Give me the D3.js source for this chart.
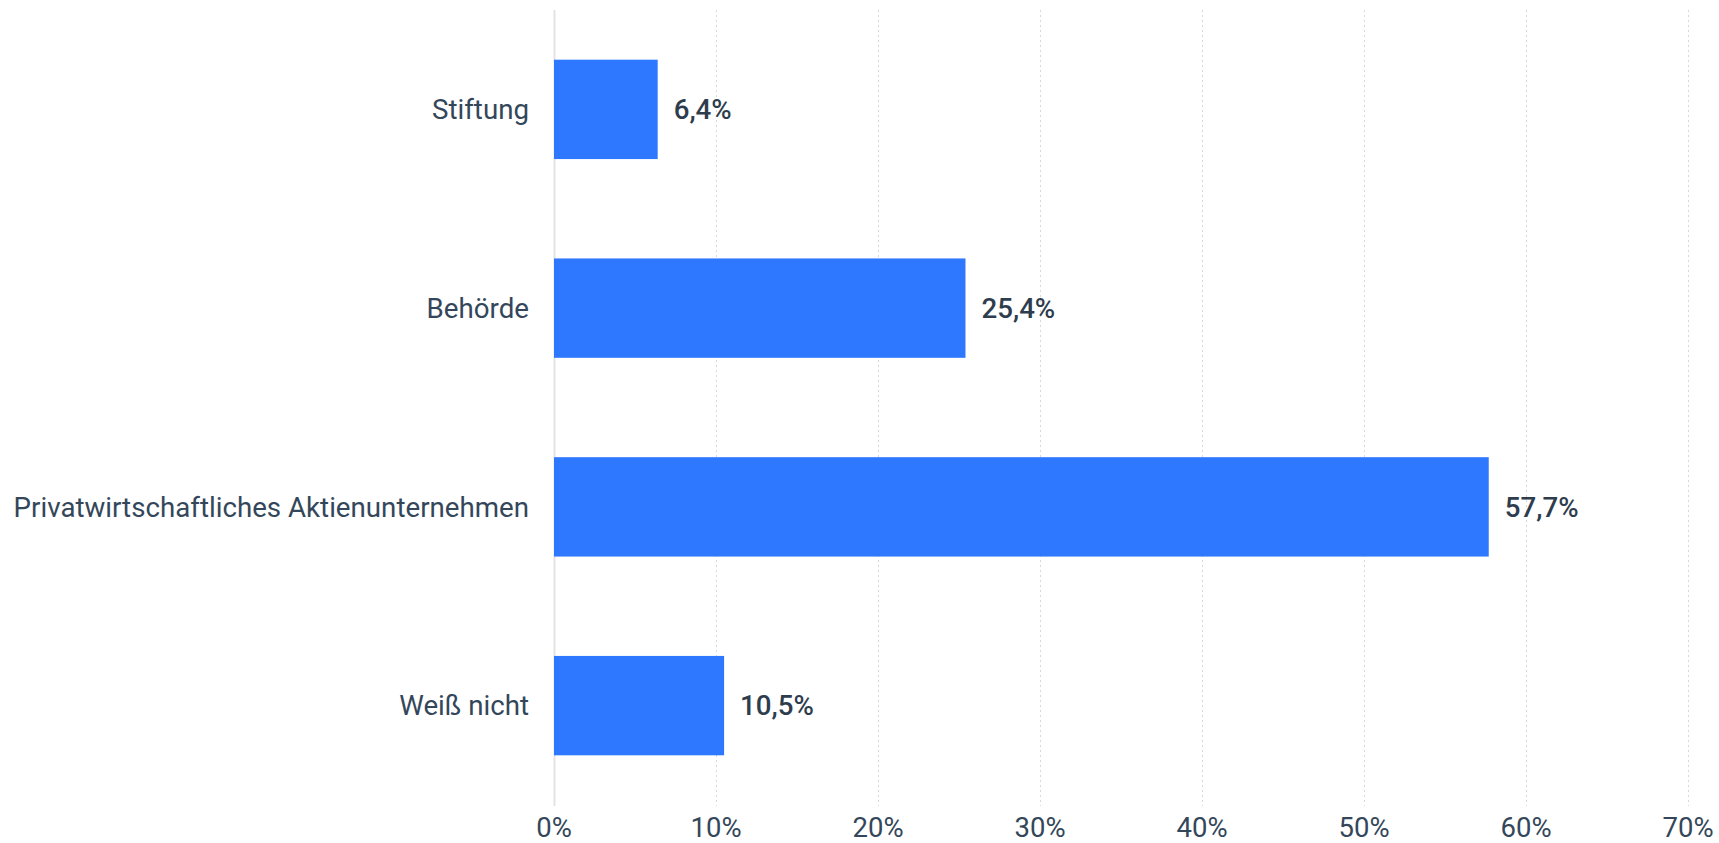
<!DOCTYPE html>
<html lang="de">
<head>
  <meta charset="UTF-8" />
  <title>Balkendiagramm</title>
  <script src="https://d3js.org/d3.v7.min.js"></script>
  <style>
    html, body { margin: 0; padding: 0; background: #fff; }
    svg { display: block; font-family: Roboto, "Noto Sans", sans-serif; }
    .cat { font-size: 27.7px; fill: #34475a; }
    .val { font-size: 27.7px; font-weight: 500; fill: #2e3d4d; }
    .tick-label { font-size: 27.5px; fill: #34475a; }
  </style>
</head>
<body>
  <svg width="1719" height="843"></svg>

  <script>
    // data
    const categories = ["Stiftung", "Behörde", "Privatwirtschaftliches Aktienunternehmen", "Weiß nicht"];
    const values = [6.4, 25.4, 57.7, 10.5];
    const tickValues = [0, 10, 20, 30, 40, 50, 60, 70];

    const svg = d3.select("svg");

    const x = d3.scaleLinear()
      .domain([0, 70])
      .range([554, 1688]);

    const y = d3.scaleBand()
      .domain(categories)
      .range([10, 805])
      .paddingInner(0.5)
      .paddingOuter(0.25);

    // gridlines
    svg.selectAll("line.grid")
      .data(tickValues)
      .enter()
      .append("line")
      .attr("class", "grid")
      .attr("x1", d => x(d) + 0.5)
      .attr("x2", d => x(d) + 0.5)
      .attr("y1", 10)
      .attr("y2", 806)
      .attr("stroke", d => d === 0 ? "#e3e3e3" : "#d8d8d8")
      .attr("stroke-width", d => d === 0 ? 2 : 1)
      .attr("stroke-dasharray", d => d === 0 ? null : "2,3");

    // tick labels
    svg.selectAll("text.tick-label")
      .data(tickValues)
      .enter()
      .append("text")
      .attr("class", "tick-label")
      .attr("x", d => x(d))
      .attr("y", 837)
      .attr("text-anchor", "middle")
      .text(d => d + "%");

    const rows = categories.map((c, i) => ({ cat: c, val: values[i] }));

    // bars
    svg.selectAll("rect.bar")
      .data(rows)
      .enter()
      .append("rect")
      .attr("class", "bar")
      .attr("x", x(0))
      .attr("y", d => y(d.cat))
      .attr("width", d => x(d.val) - x(0))
      .attr("height", y.bandwidth())
      .attr("fill", "#2e78ff");

    // category labels
    svg.selectAll("text.cat")
      .data(rows)
      .enter()
      .append("text")
      .attr("class", "cat")
      .attr("x", x(0) - 25)
      .attr("y", d => y(d.cat) + y.bandwidth() / 2)
      .attr("dy", "0.35em")
      .attr("text-anchor", "end")
      .text(d => d.cat);

    // value labels
    svg.selectAll("text.val")
      .data(rows)
      .enter()
      .append("text")
      .attr("class", "val")
      .attr("x", d => x(d.val) + 16)
      .attr("y", d => y(d.cat) + y.bandwidth() / 2)
      .attr("dy", "0.35em")
      .text(d => d3.format(".1f")(d.val).replace(".", ",") + "%");
  </script>
</body>
</html>
